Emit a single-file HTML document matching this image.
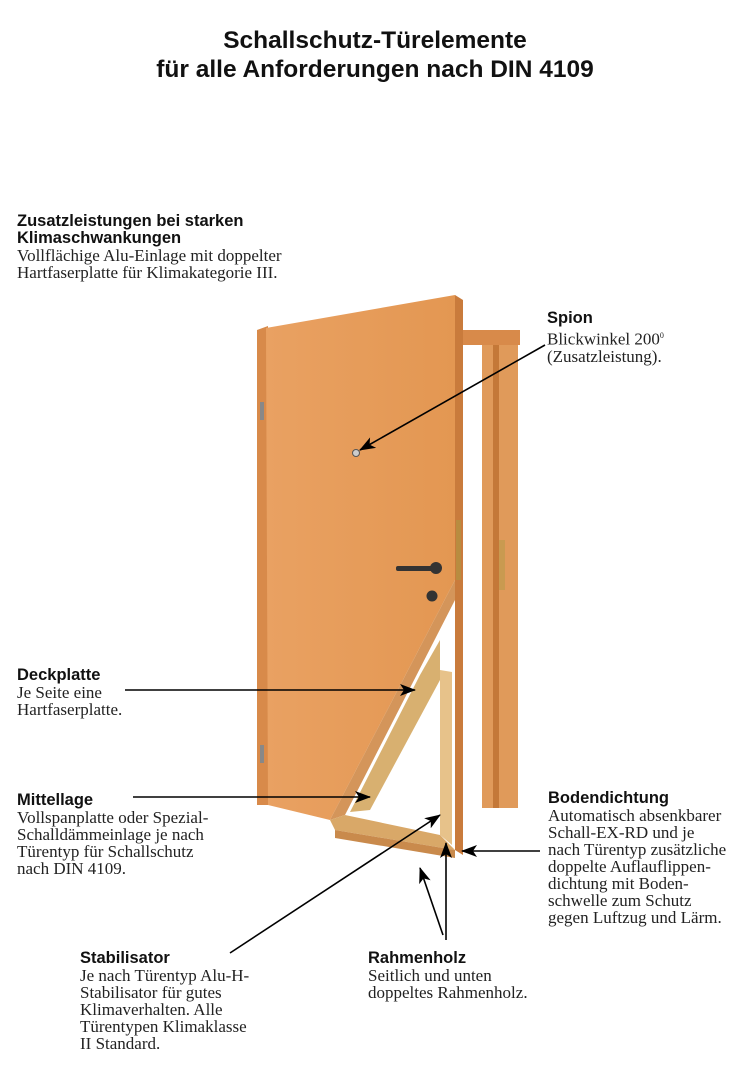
<!DOCTYPE html>
<html><head><meta charset="utf-8"><style>
body{margin:0;width:750px;height:1082px;background:#fff;position:relative;overflow:hidden}
.t{position:absolute;font-family:"Liberation Serif",serif;font-size:17px;line-height:17px;color:#222;white-space:nowrap}
.t b{display:block;font-family:"Liberation Sans",sans-serif;font-size:16.5px;font-weight:bold;color:#111;line-height:17px}
.title{position:absolute;left:0;width:750px;top:26px;text-align:center;font-family:"Liberation Sans",sans-serif;font-weight:bold;font-size:24.5px;line-height:29px;color:#111}
svg{position:absolute;left:0;top:0}
</style></head><body>
<div class="title">Schallschutz-Türelemente<br>für alle Anforderungen nach DIN 4109</div>
<svg width="750" height="1082">
<defs>
<linearGradient id="w" x1="0" x2="1"><stop offset="0" stop-color="#e9a162"/><stop offset="1" stop-color="#e39752"/></linearGradient>
<marker id="b" markerWidth="16" markerHeight="12" refX="15" refY="6" orient="auto" markerUnits="userSpaceOnUse"><path d="M0,0 L16,6 L0,12 L4,6Z" fill="#000"/></marker>
</defs>
<polygon points="463,330 520,330 520,345 463,345" fill="#d88a4a"/>
<polygon points="482,345 518,345 518,808 482,808" fill="#e09a5a"/>
<rect x="493" y="345" width="6" height="463" fill="#c47838"/>
<polygon points="257,330 268,326 268,805 257,805" fill="#d88a4a"/>
<rect x="499" y="540" width="6" height="50" fill="#c99a50"/>
<polygon points="266,328 455,295 455,580 330,820 268,805" fill="url(#w)"/>
<polygon points="455,295 463,300 463,855 455,850" fill="#c97b3c"/>
<polygon points="455,580 455,600 345,815 330,820" fill="#d4955a"/>
<polygon points="440,640 440,680 370,810 350,812 420,675" fill="#d8b070"/>
<polygon points="440,670 452,672 452,845 440,835" fill="#e7c28a"/>
<polygon points="330,820 345,815 440,835 455,850 335,830" fill="#d9a868"/>
<polygon points="335,830 455,850 455,858 335,838" fill="#c98a4c"/>
<rect x="260" y="402" width="4" height="18" fill="#888"/>
<rect x="260" y="745" width="4" height="18" fill="#888"/>
<circle cx="356" cy="453" r="3.5" fill="#ccc" stroke="#555"/>
<rect x="396" y="566" width="40" height="5" rx="2" fill="#333"/>
<circle cx="436" cy="568" r="6" fill="#333"/>
<circle cx="432" cy="596" r="5.5" fill="#333"/>
<rect x="456" y="520" width="5" height="60" fill="#b88c40"/>
<g stroke="#000" stroke-width="1.6" fill="none">
<line x1="545" y1="345" x2="360" y2="450" marker-end="url(#b)"/>
<line x1="125" y1="690" x2="415" y2="690" marker-end="url(#b)"/>
<line x1="133" y1="797" x2="370" y2="797" marker-end="url(#b)"/>
<line x1="230" y1="953" x2="440" y2="815" marker-end="url(#b)"/>
<line x1="540" y1="851" x2="462" y2="851" marker-end="url(#b)"/>
<line x1="446" y1="940" x2="446" y2="843" marker-end="url(#b)"/>
<line x1="443" y1="935" x2="420" y2="868" marker-end="url(#b)"/>
</g>
</svg>
<div class="t" style="left:17px;top:213px"><b>Zusatzleistungen bei starken</b><b>Klimaschwankungen</b>Vollflächige Alu-Einlage mit doppelter<br>Hartfaserplatte für Klimakategorie III.</div>
<div class="t" style="left:547px;top:310px"><b>Spion</b>Blickwinkel 200<sup style="font-size:8px">0</sup><br>(Zusatzleistung).</div>
<div class="t" style="left:17px;top:667px"><b>Deckplatte</b>Je Seite eine<br>Hartfaserplatte.</div>
<div class="t" style="left:17px;top:792px"><b>Mittellage</b>Vollspanplatte oder Spezial-<br>Schalldämmeinlage je nach<br>Türentyp für Schallschutz<br>nach DIN 4109.</div>
<div class="t" style="left:548px;top:790px"><b>Bodendichtung</b>Automatisch absenkbarer<br>Schall-EX-RD und je<br>nach Türentyp zusätzliche<br>doppelte Auflauflippen-<br>dichtung mit Boden-<br>schwelle zum Schutz<br>gegen Luftzug und Lärm.</div>
<div class="t" style="left:80px;top:950px"><b>Stabilisator</b>Je nach Türentyp Alu-H-<br>Stabilisator für gutes<br>Klimaverhalten. Alle<br>Türentypen Klimaklasse<br>II Standard.</div>
<div class="t" style="left:368px;top:950px"><b>Rahmenholz</b>Seitlich und unten<br>doppeltes Rahmenholz.</div>
</body></html>
